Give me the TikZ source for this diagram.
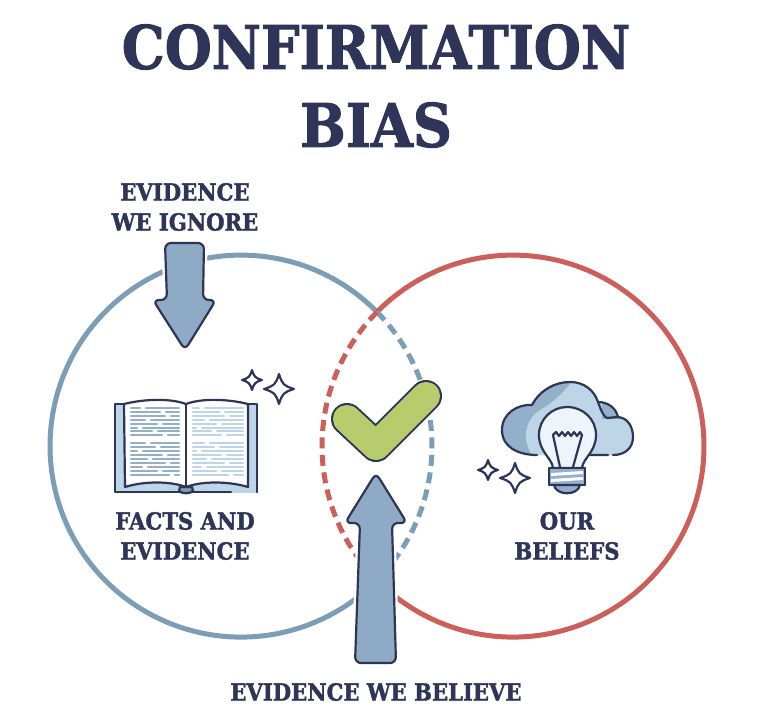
\documentclass[tikz,border=0pt]{standalone}
\usepackage{fontspec}
\setmainfont{DejaVu Serif}[BoldFont={DejaVu Serif Bold},BoldFeatures={FakeStretch=0.9,FakeBold=1.6}]
\definecolor{navy}{HTML}{2E3558}
\definecolor{ringblue}{HTML}{7C9DB6}
\definecolor{ringred}{HTML}{CD5F5A}
\definecolor{checkgreen}{HTML}{B8CC6E}
\definecolor{arrowblue}{HTML}{8FAAC5}
\definecolor{midblue}{HTML}{93B0CA}
\definecolor{paleblue}{HTML}{BDD5E6}
\definecolor{iceblue}{HTML}{EEF5FA}
\tikzset{
  ring/.style={line width=5pt},
  dashring/.style={line width=5pt,dash pattern=on 11pt off 6.5pt},
  blockarrow/.style={draw=navy,line width=2.2pt,fill=arrowblue,rounded corners=6pt,line join=round},
  halo/.style={draw=white,line width=7pt,rounded corners=6pt,line join=round},
  ink/.style={draw=navy,line width=2.2pt,line cap=round,line join=round},
  titletext/.style={font=\fontsize{60}{60}\selectfont\bfseries,text=navy,inner sep=0pt,anchor=center},
  labeltext/.style={font=\fontsize{23.5}{30}\selectfont\bfseries,text=navy,align=center,inner sep=0pt,anchor=center},
  textrow/.style={line width=2.4pt,line cap=round},
  sparkleshape/.pic={\draw[ink] (0,-1) .. controls (.22,-.3) and (.3,-.22) .. (1,0) .. controls (.3,.22) and (.22,.3) .. (0,1) .. controls (-.22,.3) and (-.3,.22) .. (-1,0) .. controls (-.3,-.22) and (-.22,-.3) .. (0,-1) -- cycle;}
}
\begin{document}
\begin{tikzpicture}[x=1pt,y=-1pt]
\useasboundingbox (0,0) rectangle (764,720);
\fill[white] (0,0) rectangle (764,720);
% rings
\coordinate (L) at (241,446);
\coordinate (R) at (512.5,446);
\draw[ring,ringblue] (377,312) arc[start angle=-44.6,end angle=-315.4,x radius=191,y radius=191];
\draw[ring,ringred] (377,312) arc[start angle=-135.4,end angle=135.4,x radius=191,y radius=191];
\draw[dashring,ringblue] (377,312) arc[start angle=-44.6,end angle=44.6,x radius=191,y radius=191];
\draw[dashring,ringred] (377,312) arc[start angle=-135.4,end angle=-224.6,x radius=191,y radius=191];
% titles
\node[titletext] (title1) at (376,47) {CONFIRMATION};
\node[titletext] (title2) at (376,125) {BIAS};
\node[labeltext] (ignore) at (185,207) {EVIDENCE\\WE IGNORE};
\node[labeltext] (facts) at (185,536) {FACTS AND\\EVIDENCE};
\node[labeltext] (beliefs) at (567,536) {OUR\\BELIEFS};
\node[labeltext] (believe) at (376,692) {EVIDENCE WE BELIEVE};
% down arrow
\def\downarrowpath{(165,243) -- (204,243) -- (203,300) -- (216,300) -- (185,350) -- (153,300) -- (167,300) -- cycle}
\draw[halo] \downarrowpath;
\draw[blockarrow] \downarrowpath;
% up arrow
\def\uparrowpath{(376,473) -- (407,523) -- (392,523) -- (396,663) -- (355,663) -- (360,523) -- (345,523) -- cycle}
\draw[halo] \uparrowpath;
\draw[blockarrow] \uparrowpath;
% check
\draw[navy,line width=32pt,line cap=round,line join=round] (347,419) -- (376,446) -- (426,396);
\draw[checkgreen,line width=28pt,line cap=round,line join=round] (347,419) -- (376,446) -- (426,396);
% book
\fill[paleblue] (114,404) rectangle (258,493);
\draw[ink] (124,404) -- (115,404) -- (115,492) -- (231,492);
\draw[ink] (248,404) -- (257,404) -- (257,492);
\draw[ink,fill=white] (124,404) .. controls (144,399) and (170,398) .. (186,404) .. controls (202,398) and (228,399) .. (248,404) -- (248,487) .. controls (228,481) and (202,481) .. (186,487) .. controls (170,481) and (144,481) .. (125,487) -- cycle;
\draw[ink] (186,404) -- (186,487);
\draw[ink,fill=ringblue] (180,487) -- (192,487) -- (193,491) .. controls (190,494) and (182,494) .. (179,491) -- cycle;
\foreach \y/\s in {408/143,412/163,416/168,420/148,424/160,428/140,431/155,435/165,443/148,447/158,451/140,455/165,459/150,463/168,467/145,471/160,475/172}{
  \draw[textrow,midblue] (131,\y) -- (\s-3,\y) (\s+3,\y) -- (179,\y);
  \draw[textrow,paleblue] (193,\y) -- (\s+56,\y) (\s+62,\y) -- (243,\y);
}
% sparkles near book
\pic[scale=10] at (252,380) {sparkleshape};
\pic[scale=15] at (279,389) {sparkleshape};
% cloud
\def\cloudpath{(537,455) .. controls (518,455) and (502,447) .. (502,430) .. controls (502,413) and (518,404) .. (532,405) .. controls (540,390) and (555,382) .. (570,382) .. controls (584,382) and (594,390) .. (598,402) .. controls (608,402) and (616,408) .. (618,417) .. controls (628,418) and (633,427) .. (633,437) .. controls (633,448) and (625,455) .. (613,455) -- cycle}
\fill[midblue] \cloudpath;
\begin{scope}
\clip \cloudpath;
\fill[paleblue] (535,460) .. controls (520,440) and (525,420) .. (540,410) .. controls (555,402) and (565,390) .. (572,382) -- (640,380) -- (640,460) -- cycle;
\fill[midblue] (602,400) rectangle (625,419);
\end{scope}
\draw[ink] (537,455) .. controls (518,455) and (502,447) .. (502,430) .. controls (502,413) and (518,404) .. (532,405) .. controls (540,390) and (555,382) .. (570,382) .. controls (584,382) and (594,390) .. (598,402) .. controls (608,402) and (616,408) .. (618,417) .. controls (628,418) and (633,427) .. (633,437) .. controls (633,448) and (625,455) .. (613,455) (608,455) -- (590,455);
\draw[ink] (598,402) .. controls (601,410) and (603,416) .. (607,418) -- (618,417);
% bulb
\draw[ink,fill=iceblue] (553,468) .. controls (552,458) and (539,452) .. (539,435) .. controls (539,419) and (552,407) .. (567,407) .. controls (583,407) and (596,419) .. (596,435) .. controls (596,452) and (583,458) .. (582,468) -- cycle;
\draw[ink] (560,467) -- (553,435) -- (556,432) -- (559,436) -- (562,432) -- (565,436) -- (568,432) -- (571,436) -- (574,432) -- (577,436) -- (580,432) -- (582,435) -- (573,467);
\fill[midblue] (549,468) rectangle (585,485);
\fill[white] (551,473) -- (583,471) -- (583,474) -- (551,476) -- cycle;
\fill[white] (551,479) -- (583,477) -- (583,480) -- (551,482) -- cycle;
\draw[ink] (549,468) -- (585,468) (549,468) -- (549,485) (585,468) -- (585,485) (549,485) -- (585,485);
\draw[ink,fill=midblue] (554,485) .. controls (556,496) and (578,496) .. (580,485) -- cycle;
% sparkles near bulb
\pic[scale=10] at (488,470) {sparkleshape};
\pic[scale=15] at (515,478) {sparkleshape};
\end{tikzpicture}
\end{document}
